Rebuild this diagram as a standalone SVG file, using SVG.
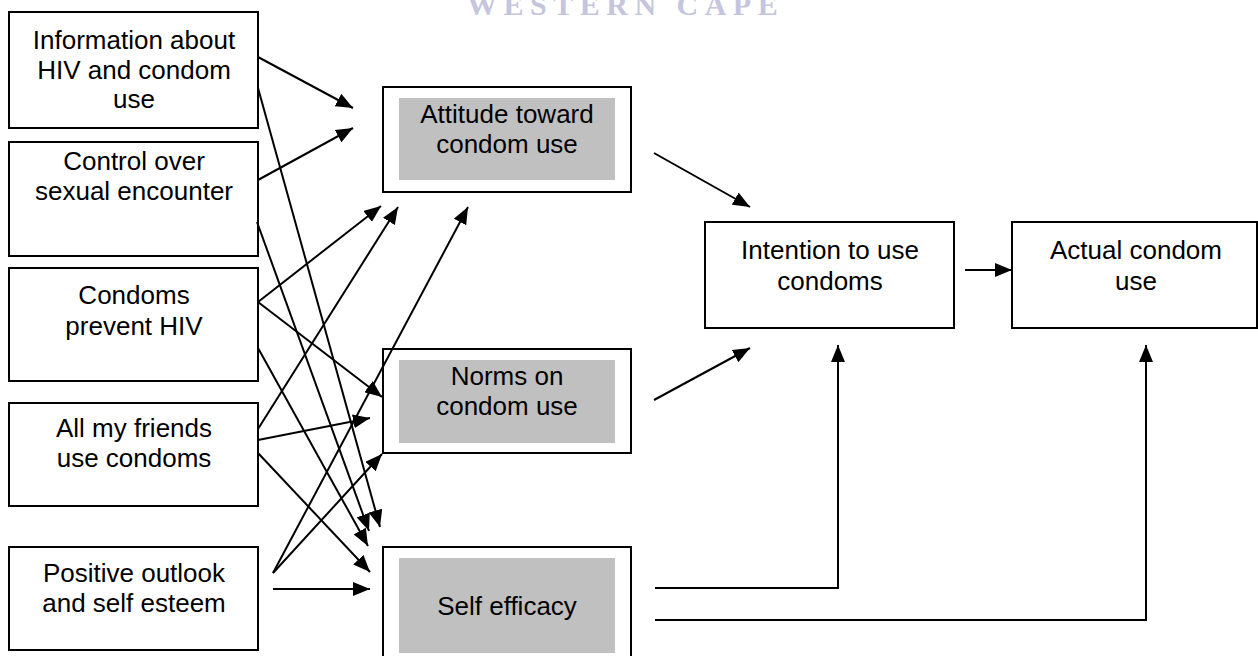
<svg xmlns="http://www.w3.org/2000/svg" width="1258" height="656" viewBox="0 0 1258 656">
<style>
.box{fill:#fff;stroke:#000;stroke-width:2}
.inner{fill:#c0c0c0;stroke:none}
.t{font-family:"Liberation Sans",Arial,sans-serif;font-size:26px;fill:#000;text-anchor:middle}
.c{fill:none;stroke:#000;stroke-width:2;marker-end:url(#ah)}
.wm{font-family:"Liberation Serif","Times New Roman",serif;font-weight:bold;font-size:30px;fill:#c5c5de;letter-spacing:6.5px}
</style>
<defs>
<marker id="ah" markerWidth="17" markerHeight="14" refX="17" refY="7" orient="auto" markerUnits="userSpaceOnUse">
<path d="M0,0 L17,7 L0,14 z" fill="#000"/>
</marker>
</defs>
<rect width="1258" height="656" fill="#fff"/>
<text class="wm" x="467" y="15">WESTERN CAPE</text>

<g id="info"><rect class="box" x="9" y="12" width="249" height="116"/>
<text class="t" x="134" y="49">Information about</text><text class="t" x="134" y="78.5">HIV and condom</text><text class="t" x="134" y="108">use</text></g>
<g id="control"><rect class="box" x="9" y="142" width="249" height="114"/>
<text class="t" x="134" y="170">Control over</text><text class="t" x="134" y="200">sexual encounter</text></g>
<g id="condoms"><rect class="box" x="9" y="268" width="249" height="113"/>
<text class="t" x="134" y="304">Condoms</text><text class="t" x="134" y="335">prevent HIV</text></g>
<g id="friends"><rect class="box" x="9" y="403" width="249" height="103"/>
<text class="t" x="134" y="437">All my friends</text><text class="t" x="134" y="467">use condoms</text></g>
<g id="outlook"><rect class="box" x="9" y="547" width="249" height="103"/>
<text class="t" x="134" y="582">Positive outlook</text><text class="t" x="134" y="612">and self esteem</text></g>

<g id="attitude"><rect class="box" x="383" y="87" width="248" height="105"/><rect class="inner" x="399" y="98" width="216" height="82"/>
<text class="t" x="507" y="123">Attitude toward</text><text class="t" x="507" y="153">condom use</text></g>
<g id="norms"><rect class="box" x="383" y="349" width="248" height="104"/><rect class="inner" x="399" y="360" width="216" height="83"/>
<text class="t" x="507" y="385">Norms on</text><text class="t" x="507" y="415">condom use</text></g>
<g id="selfeff"><rect class="box" x="383" y="547" width="248" height="118"/><rect class="inner" x="399" y="558" width="216" height="95"/>
<text class="t" x="507" y="615">Self efficacy</text></g>

<g id="intention"><rect class="box" x="705" y="222" width="249" height="106"/>
<text class="t" x="830" y="259">Intention to use</text><text class="t" x="830" y="290">condoms</text></g>
<g id="actual"><rect class="box" x="1012" y="222" width="245" height="106"/>
<text class="t" x="1136" y="259">Actual condom</text><text class="t" x="1136" y="290">use</text></g>

<g id="connectors">
<path class="c" d="M258,57 L353,108"/>
<path class="c" d="M258,88 L380,527"/>
<path class="c" d="M258,180 L353,128"/>
<path class="c" d="M257,222 L369,531"/>
<path class="c" d="M258,302 L381,206"/>
<path class="c" d="M258,302 L382,397"/>
<path class="c" d="M258,348 L368,546"/>
<path class="c" d="M258,429 L398,207"/>
<path class="c" d="M258,440 L370,418"/>
<path class="c" d="M258,453 L370,572"/>
<path class="c" d="M273,573 L382,454"/>
<path class="c" d="M273,573 L468,207"/>
<path class="c" d="M273,589 L370,589"/>
<path class="c" d="M654,153 L750,207"/>
<path class="c" d="M654,400 L750,348"/>
<path class="c" d="M655,588 L838,588 L838,345"/>
<path class="c" d="M655,620 L1146,620 L1146,345"/>
<path class="c" d="M965,270 L1012,270"/>
</g>
</svg>
